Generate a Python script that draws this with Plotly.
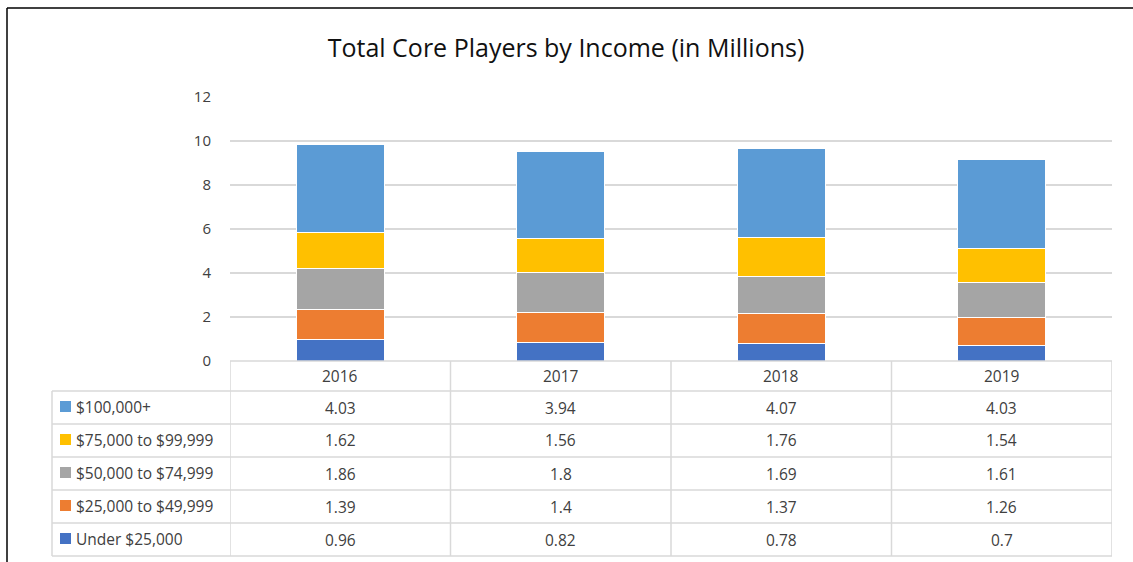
import plotly.graph_objects as go

W, H = 1133, 562

years = ["2016", "2017", "2018", "2019"]
under_25k = [0.96, 0.82, 0.78, 0.7]
k25_to_49k = [1.39, 1.4, 1.37, 1.26]
k50_to_74k = [1.86, 1.8, 1.69, 1.61]
k75_to_99k = [1.62, 1.56, 1.76, 1.54]
k100_plus = [4.03, 3.94, 4.07, 4.03]

series_names = ["Under $25,000", "$25,000 to $49,999", "$50,000 to $74,999",
                "$75,000 to $99,999", "$100,000+"]
series_values = [under_25k, k25_to_49k, k50_to_74k, k75_to_99k, k100_plus]
series_colors = ["#4472C4", "#ED7D31", "#A5A5A5", "#FFC000", "#5B9BD5"]

y_ticks = [0, 2, 4, 6, 8, 10, 12]

FONT = "Open Sans"
TEXT = "#404040"
GRID = "#D9D9D9"

# pixel layout helpers
def px_x(px):
    return px / W

def px_y(py):
    return 1 - py / H

plot_left, plot_right = 230, 1112
plot_top, plot_bottom = 97, 361
table_left = 52
header_bottom = 391
row_h = 33
row_edges = [plot_bottom, header_bottom] + [header_bottom + row_h * (i + 1) for i in range(5)]

fig = go.Figure()
for name, vals, col in zip(series_names, series_values, series_colors):
    fig.add_trace(go.Bar(
        x=years, y=vals, name=name,
        marker=dict(color=col, line=dict(color="white", width=1)),
        width=0.4, showlegend=False, hoverinfo="x+y+name",
    ))

shapes = []
annotations = []

# outer frame (left and top edges)
shapes.append(dict(type="line", xref="paper", yref="paper",
                   x0=px_x(7), x1=px_x(W + 2), y0=px_y(8), y1=px_y(8),
                   line=dict(color="black", width=1.5)))
shapes.append(dict(type="line", xref="paper", yref="paper",
                   x0=px_x(7), x1=px_x(7), y0=px_y(8), y1=px_y(H + 2),
                   line=dict(color="black", width=1.5)))

# data table: horizontal rules
for i, ey in enumerate(row_edges):
    x0 = plot_left if i == 0 else table_left
    shapes.append(dict(type="line", xref="paper", yref="paper",
                       x0=px_x(x0), x1=px_x(plot_right), y0=px_y(ey), y1=px_y(ey),
                       line=dict(color=GRID, width=1.5), layer="above"))
# data table: vertical rules (category boundaries on the x axis)
for k in range(len(years) + 1):
    shapes.append(dict(type="line", xref="x", yref="paper",
                       x0=k - 0.5, x1=k - 0.5, y0=px_y(row_edges[0]), y1=px_y(row_edges[-1]),
                       line=dict(color=GRID, width=1.5)))
shapes.append(dict(type="line", xref="paper", yref="paper",
                   x0=px_x(table_left), x1=px_x(table_left),
                   y0=px_y(header_bottom), y1=px_y(row_edges[-1]),
                   line=dict(color=GRID, width=1.5)))

cell_font = dict(family=FONT, size=15.5, color=TEXT)

# header row: years
hdr_c = (row_edges[0] + row_edges[1]) / 2
for k, yr in enumerate(years):
    annotations.append(dict(x=k, xref="x", y=px_y(hdr_c), yref="paper", text=yr,
                            xanchor="center", yanchor="middle",
                            showarrow=False, font=cell_font))

# value rows, top-down from the highest income band
for r, idx in enumerate(reversed(range(len(series_names)))):
    cy = (row_edges[r + 1] + row_edges[r + 2]) / 2
    shapes.append(dict(type="rect", xref="paper", yref="paper",
                       x0=px_x(60), x1=px_x(71), y0=px_y(cy + 4.5), y1=px_y(cy - 6.5),
                       fillcolor=series_colors[idx], line=dict(width=0)))
    annotations.append(dict(x=px_x(74), xref="paper", y=px_y(cy - 1), yref="paper",
                            text=series_names[idx], xanchor="left", yanchor="middle",
                            showarrow=False, font=cell_font))
    for k, v in enumerate(series_values[idx]):
        annotations.append(dict(x=k, xref="x", y=px_y(cy), yref="paper", text=str(v),
                                xanchor="center", yanchor="middle",
                                showarrow=False, font=cell_font))

fig.update_layout(
    width=W, height=H,
    margin=dict(l=0, r=0, t=0, b=0, autoexpand=False),
    paper_bgcolor="white", plot_bgcolor="white",
    barmode="stack", bargap=0.6,
    title=dict(text="Total Core Players by Income (in Millions)",
               x=566 / W, xanchor="center", y=px_y(48), yanchor="middle",
               font=dict(family=FONT, size=25, color="#111111")),
    xaxis=dict(domain=[px_x(plot_left), px_x(plot_right)], range=[-0.5, 3.5],
               showticklabels=False, showgrid=False, zeroline=False, showline=False,
               type="category", automargin=False),
    yaxis=dict(domain=[px_y(plot_bottom), px_y(plot_top)], range=[0, 12],
               tickvals=y_ticks, showgrid=True, gridcolor=GRID, gridwidth=1.5,
               zeroline=False, showline=False, ticks="", ticklabelstandoff=18,
               automargin=False,
               tickfont=dict(family=FONT, size=15, color=TEXT)),
    shapes=shapes, annotations=annotations,
)

fig.write_html("out.html", post_script="document.body.style.margin='0';")
